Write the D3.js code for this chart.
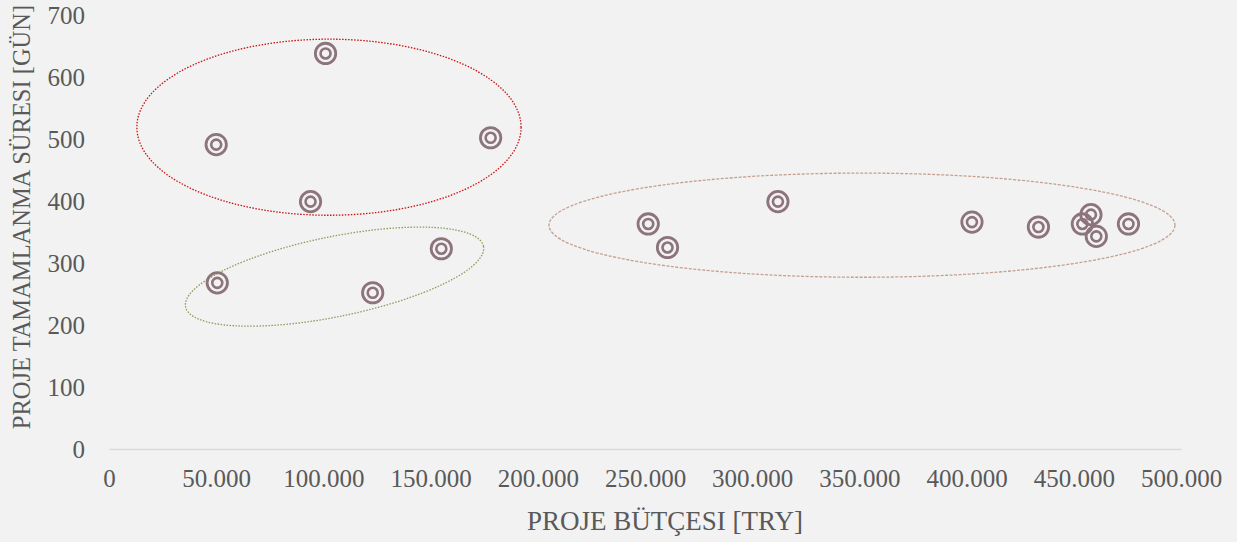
<!DOCTYPE html>
<html><head><meta charset="utf-8">
<script src="https://cdn.jsdelivr.net/npm/d3@7"></script>
<style>html,body{margin:0;padding:0;background:#f2f2f2;}svg{display:block;}</style>
</head><body><svg id="c" width="1237" height="542"></svg>
<script>
// Data
const budget = [50000, 101000, 178000, 94000, 50500, 123000, 155000, 251500, 260500, 312000, 402500, 433500, 454000, 458000, 460500, 475500];
const duration = [491, 638, 502, 399, 268, 252, 323, 363, 325, 399, 366, 358, 363, 378, 343, 363];
const xTicks = [0, 50000, 100000, 150000, 200000, 250000, 300000, 350000, 400000, 450000, 500000];
const yTicks = [0, 100, 200, 300, 400, 500, 600, 700];
const xTitle = "PROJE BÜTÇESI [TRY]";
const yTitle = "PROJE TAMAMLANMA SÜRESI [GÜN]";
// Group ellipses (center, radii in data units, rotation deg)
const groupCx = [102600, 105200, 351200];
const groupCy = [519, 278, 361];
const groupRx = [89600, 70900, 146000];
const groupRy = [142, 64.5, 84];
const groupRot = [0, -11.5, 0];
const groupColor = ["#cc1010", "#86a05a", "#c4a090"];
const groupDash = ["1.5,1.5", "1.5,1.5", "3,1.5"];

const svg = d3.select("#c");
const x = d3.scaleLinear().domain([0, 500000]).range([109, 1181]);
const y = d3.scaleLinear().domain([0, 700]).range([449, 15]);
const fmt = v => d3.format(",")(v).replace(/,/g, ".");
const font = "'Liberation Serif', 'Times New Roman', serif";

// x axis
const xa = svg.append("g").attr("transform", `translate(0,${y(0)})`)
  .call(d3.axisBottom(x).tickValues(xTicks).tickFormat(fmt).tickSize(0).tickPadding(20));
xa.select(".domain").attr("stroke", "#d9d9d9").attr("stroke-width", 1.5);
xa.selectAll("text").attr("font-family", font).attr("font-size", 25).attr("fill", "#595959");

// y axis
const ya = svg.append("g").attr("transform", `translate(${x(0)},0)`)
  .call(d3.axisLeft(y).tickValues(yTicks).tickSize(0).tickPadding(24));
ya.select(".domain").remove();
ya.selectAll("text").attr("font-family", font).attr("font-size", 25).attr("fill", "#595959");

// titles
svg.append("text").attr("x", 665).attr("y", 530).attr("text-anchor", "middle")
  .attr("font-family", font).attr("font-size", 27).attr("fill", "#595959").text(xTitle);
svg.append("text").attr("transform", `translate(30,217) rotate(-90)`).attr("text-anchor", "middle")
  .attr("font-family", font).attr("font-size", 24.5).attr("fill", "#595959").text(yTitle);

// ellipses
groupCx.forEach((cx, i) => {
  const px = x(cx), py = y(groupCy[i]);
  const rx = x(groupRx[i]) - x(0), ry = y(0) - y(groupRy[i]);
  svg.append("ellipse").attr("cx", 0).attr("cy", 0).attr("rx", rx).attr("ry", ry)
    .attr("transform", `translate(${px},${py}) rotate(${groupRot[i]})`)
    .attr("fill", "none").attr("stroke", groupColor[i]).attr("stroke-width", 1.3)
    .attr("stroke-dasharray", groupDash[i]);
});

// points
const pts = svg.append("g");
budget.forEach((b, i) => {
  const g = pts.append("g").attr("transform", `translate(${x(b)},${y(duration[i])})`);
  g.append("circle").attr("r", 10.2).attr("fill", "none").attr("stroke", "#8d747c").attr("stroke-width", 2.8);
  g.append("circle").attr("r", 5).attr("fill", "none").attr("stroke", "#8d747c").attr("stroke-width", 2.6);
});
</script></body></html>
